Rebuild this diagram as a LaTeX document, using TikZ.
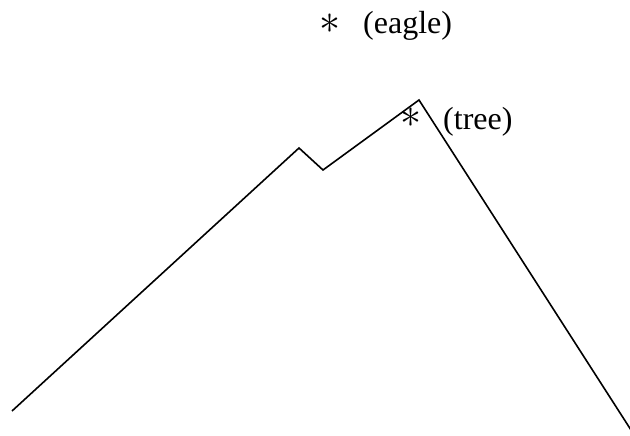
\documentclass[tikz,border=0pt]{standalone}
\usepackage{fontspec}
\setmainfont{Liberation Serif}
\usetikzlibrary{positioning}
\tikzset{
  star/.style={inner sep=0pt},
  tag/.style={inner sep=0pt,font=\fontsize{32}{38}\selectfont},
  ridge/.style={line width=1.6pt,line join=miter},
}
\newcommand{\bigast}{\scalebox{4.2}{$\ast$}}

\begin{document}
\begin{tikzpicture}[x=1pt,y=-1pt]
  \useasboundingbox (0,0) rectangle (630,436);
  % mountain outline
  \coordinate (foot) at (12,411);
  \coordinate (shoulder) at (299,148);
  \coordinate (saddle) at (323,170);
  \coordinate (summit) at (419,100);
  \coordinate (base) at (631,430);
  \draw[ridge] (foot) -- (shoulder) -- (saddle) -- (summit) -- (base);
  \node[star] (tree) at (411,118) {\bigast};
  \node[tag,anchor=west] (treetag) at (443,122) {(tree)};
  \node[star] (eagle) at (330,24) {\bigast};
  \node[tag,anchor=west] (eagletag) at (363,26) {(eagle)};
\end{tikzpicture}
\end{document}
